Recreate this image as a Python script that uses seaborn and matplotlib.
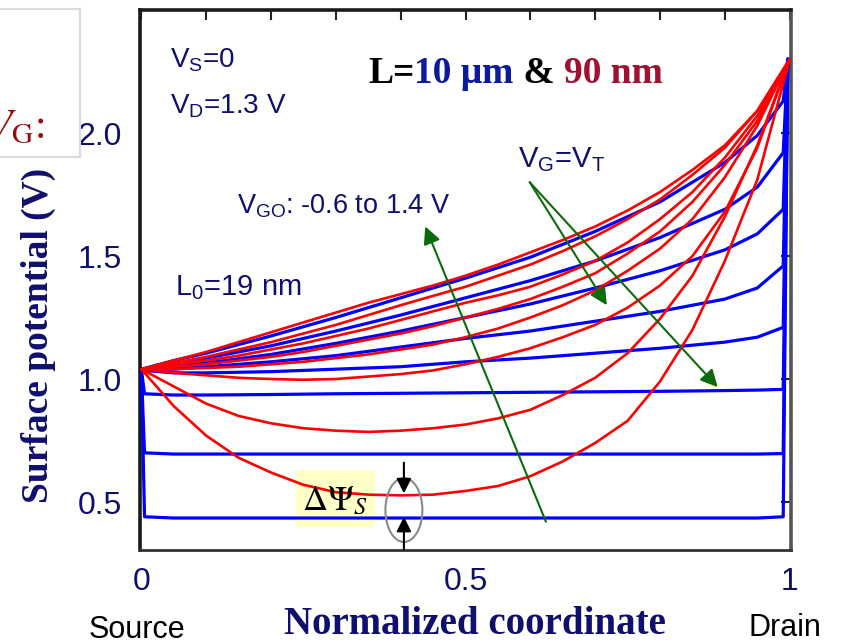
import matplotlib
matplotlib.use("Agg")
import matplotlib.pyplot as plt
from matplotlib.patches import Ellipse, Rectangle
import pandas as pd
import seaborn as sns

W, H = 841, 644

# ── L = 90 nm (red), potential vs normalized position ──
X_RED = [0, .05, .1, .15, .2, .25, .3, .35, .4, .45, .5,
         .55, .6, .65, .7, .75, .8, .85, .9, .95, 1.0]
RED_A = [1.04, 1.075, 1.11, 1.15, 1.19, 1.23, 1.27, 1.31, 1.345, 1.38, 1.42,
         1.465, 1.515, 1.565, 1.62, 1.685, 1.76, 1.85, 1.95, 2.09, 2.30]
RED_B = [1.04, 1.065, 1.09, 1.12, 1.15, 1.185, 1.22, 1.26, 1.30, 1.338, 1.375,
         1.42, 1.465, 1.52, 1.58, 1.65, 1.73, 1.83, 1.94, 2.09, 2.30]
RED_C = [1.04, 1.06, 1.075, 1.095, 1.12, 1.145, 1.175, 1.205, 1.24, 1.275, 1.31,
         1.34, 1.375, 1.425, 1.48, 1.555, 1.65, 1.76, 1.90, 2.07, 2.30]
RED_D = [1.04, 1.05, 1.06, 1.075, 1.09, 1.11, 1.135, 1.16, 1.185, 1.215, 1.25,
         1.285, 1.325, 1.375, 1.43, 1.51, 1.60, 1.72, 1.87, 2.05, 2.30]
RED_E = [1.04, 1.04, 1.045, 1.05, 1.06, 1.07, 1.085, 1.10, 1.12, 1.14, 1.17,
         1.205, 1.25, 1.30, 1.36, 1.44, 1.53, 1.65, 1.82, 2.03, 2.30]
RED_F = [1.04, 1.025, 1.015, 1.005, 1.0, 0.997, 1.0, 1.01, 1.02, 1.035, 1.06,
         1.09, 1.125, 1.17, 1.22, 1.29, 1.38, 1.50, 1.68, 1.94, 2.30]
RED_G = [1.04, 0.97, 0.90, 0.85, 0.82, 0.80, 0.79, 0.785, 0.79, 0.80, 0.815,
         0.84, 0.875, 0.935, 1.005, 1.105, 1.245, 1.42, 1.66, 1.95, 2.30]
RED_H = [1.04, 0.89, 0.77, 0.68, 0.62, 0.57, 0.54, 0.53, 0.527, 0.53, 0.545,
         0.565, 0.605, 0.665, 0.74, 0.83, 0.99, 1.20, 1.48, 1.81, 2.30]

# ── L = 10 um (blue) ──
X_BLUE = [0, .005, .05, .1, .2, .3, .4, .5, .6, .7, .8, .9, .95, .99, .997]
BLUE_1 = [1.04, 1.043, 1.075, 1.105, 1.175, 1.25, 1.33, 1.41, 1.495, 1.60, 1.72, 1.88, 1.99, 2.13, 2.30]
BLUE_2 = [1.04, 1.042, 1.06, 1.085, 1.135, 1.195, 1.26, 1.33, 1.40, 1.48, 1.575, 1.69, 1.78, 1.92, 2.30]
BLUE_3 = [1.04, 1.041, 1.05, 1.065, 1.10, 1.145, 1.195, 1.25, 1.305, 1.37, 1.44, 1.525, 1.59, 1.69, 2.30]
BLUE_4 = [1.04, 1.04, 1.04, 1.05, 1.07, 1.095, 1.13, 1.165, 1.195, 1.235, 1.275, 1.325, 1.37, 1.46, 2.30]
BLUE_5 = [1.04, 1.035, 1.025, 1.025, 1.03, 1.04, 1.05, 1.07, 1.085, 1.105, 1.125, 1.15, 1.17, 1.21, 2.30]
BLUE_6 = [1.04, 0.94, 0.935, 0.935, 0.937, 0.94, 0.942, 0.944, 0.946, 0.948, 0.95, 0.953, 0.955, 0.958, 2.30]
BLUE_7 = [1.04, 0.70, 0.695, 0.695, 0.695, 0.695, 0.695, 0.695, 0.695, 0.695, 0.695, 0.695, 0.695, 0.697, 2.30]
BLUE_8 = [1.04, 0.44, 0.435, 0.435, 0.435, 0.435, 0.435, 0.435, 0.435, 0.435, 0.435, 0.435, 0.435, 0.44, 2.30]

RED_SET = {'A': RED_A, 'B': RED_B, 'C': RED_C, 'D': RED_D,
           'E': RED_E, 'F': RED_F, 'G': RED_G, 'H': RED_H}
BLUE_SET = {'1': BLUE_1, '2': BLUE_2, '3': BLUE_3, '4': BLUE_4,
            '5': BLUE_5, '6': BLUE_6, '7': BLUE_7, '8': BLUE_8}

X_TICKS = [0, 0.5, 1]
X_TICKLABELS = ['0', '0.5', '1']
Y_TICKS = [0.5, 1.0, 1.5, 2.0]
Y_TICKLABELS = ['0.5', '1.0', '1.5', '2.0']

NAVY = '#0f0f6e'
GREEN = '#0b6b0b'
SANS = ['Liberation Sans', 'DejaVu Sans']
SERIF = ['Liberation Serif', 'DejaVu Serif']


def long_form(xs, curves):
    rows = []
    for name, vals in curves.items():
        for x, v in zip(xs, vals):
            rows.append({'x': x, 'V': v, 'curve': name})
    return pd.DataFrame(rows)


def fx(px):
    return px / W


def fy(py):
    return 1 - py / H


sns.set_theme(style='white')
plt.rcParams['font.family'] = SANS
plt.rcParams['mathtext.fontset'] = 'custom'
plt.rcParams['mathtext.rm'] = 'Liberation Sans'
plt.rcParams['mathtext.it'] = 'Liberation Sans:italic'
plt.rcParams['mathtext.bf'] = 'Liberation Sans:bold'

fig = plt.figure(figsize=(W / 100, H / 100), dpi=100)
ax = fig.add_axes([fx(140), fy(550), (791 - 140) / W, (550 - 10) / H])

df_blue = long_form(X_BLUE, BLUE_SET)
df_red = long_form(X_RED, RED_SET)
sns.lineplot(data=df_blue, x='x', y='V', units='curve', estimator=None, sort=False,
             color='#0000ff', lw=2.3, ax=ax, zorder=3)
sns.lineplot(data=df_red, x='x', y='V', units='curve', estimator=None, sort=False,
             color='#ff0000', lw=1.9, ax=ax, zorder=4)

ax.set_xlim(-0.002, 1.002)
ax.set_ylim(0.305, 2.5)
ax.set_xticks(X_TICKS)
ax.set_xticklabels(X_TICKLABELS)
ax.set_xticks([i / 10 for i in range(1, 10) if i != 5], minor=True)
ax.set_yticks(Y_TICKS)
ax.set_yticklabels(Y_TICKLABELS)
ax.set_xlabel('')
ax.set_ylabel('')
ax.tick_params(axis='both', which='both', direction='in', top=True, right=True,
               length=7, width=1.5, color='#222222', labelsize=23,
               labelcolor=NAVY)
ax.tick_params(axis='x', which='major', pad=12)
ax.tick_params(axis='y', which='major', pad=13)

for side, lw, col in [('top', 2.6, '#1a1a1a'), ('left', 2.6, '#1a1a1a'),
                      ('bottom', 2.0, '#333333'), ('right', 2.6, '#555555')]:
    ax.spines[side].set_linewidth(lw)
    ax.spines[side].set_color(col)
    ax.spines[side].set_visible(True)

# green guide arrows
arrow_kw = dict(arrowstyle='-|>', color=GREEN, lw=1.5, mutation_scale=26,
                shrinkA=0, shrinkB=0)
ax.annotate('', xy=(0.438, 1.62), xytext=(0.624, 0.42), arrowprops=arrow_kw, zorder=6)
ax.annotate('', xy=(0.718, 1.30), xytext=(0.599, 1.80), arrowprops=arrow_kw, zorder=6)
ax.annotate('', xy=(0.889, 0.967), xytext=(0.599, 1.80), arrowprops=arrow_kw, zorder=6)

# delta psi marker
ax.add_patch(Rectangle((0.239, 0.398), 0.122, 0.232, facecolor='#ffffc8',
                       edgecolor='none', zorder=1))
ax.text(0.298, 0.505, r'$\Delta\Psi_S$', fontsize=25, math_fontfamily='stix',
        ha='center', va='center', color='black', zorder=7)
ax.add_patch(Ellipse((0.405, 0.4675), 0.057, 0.26, facecolor='none',
                     edgecolor='#8a8a8a', lw=1.5, zorder=6))
blk_kw = dict(arrowstyle='-|>', color='black', lw=1.5, mutation_scale=22,
              shrinkA=0, shrinkB=0)
ax.annotate('', xy=(0.405, 0.535), xytext=(0.405, 0.66), arrowprops=blk_kw, zorder=7)
ax.annotate('', xy=(0.405, 0.44), xytext=(0.405, 0.305), arrowprops=blk_kw, zorder=7)

# annotations inside the plot
fig.text(fx(170), fy(68), r'$\mathrm{V_S}$=0', fontsize=20, color=NAVY, va='baseline')
fig.text(fx(170), fy(113), r'$\mathrm{V_D}$=1.3 V', fontsize=20, color=NAVY, va='baseline')
fig.text(fx(237), fy(213), r'$\mathrm{V_{GO}}$: -0.6 to 1.4 V', fontsize=19.5, color=NAVY,
         va='baseline')
fig.text(fx(175), fy(295), r'$\mathrm{L_0}$=19 nm', fontsize=21, color=NAVY,
         va='baseline')
fig.text(fx(518), fy(167), r'$\mathrm{V_G}$=$\mathrm{V_T}$', fontsize=21, color=NAVY,
         va='baseline')

# title with coloured parts
pieces = [('L=', 'black'), ('10 \u03bcm', '#0c1a9c'), (' & ', 'black'), ('90 nm', '#a3102f')]
t = fig.text(fx(368), fy(83), pieces[0][0], color=pieces[0][1], fontsize=27,
             family=SERIF, weight='bold', va='baseline')
for s, c in pieces[1:]:
    t = ax.annotate(s, xy=(1, 0), xycoords=t, ha='left', va='bottom', color=c,
                    fontsize=27, family=SERIF, weight='bold', annotation_clip=False)

# axis titles and end labels
fig.text(fx(38), fy(335), 'Surface potential (V)', rotation=90, ha='center', va='center',
         fontsize=27, family=SERIF, weight='bold', color=NAVY)
fig.text(fx(475), fy(634), 'Normalized coordinate', ha='center', va='baseline',
         fontsize=28, family=SERIF, weight='bold', color=NAVY)
fig.text(fx(137), fy(638), 'Source', ha='center', va='baseline', fontsize=22,
         color='black')
fig.text(fx(785), fy(636), 'Drain', ha='center', va='baseline', fontsize=22,
         color='black')

# leftover "V_G:" box at the top-left edge
fig.add_artist(Rectangle((fx(-3), fy(157)), 83 / W, 148 / H, transform=fig.transFigure,
                         facecolor='white', edgecolor='#dadada', lw=1.5))
fig.text(fx(44), fy(138), r'$V_{\mathrm{G}}$:', ha='right', va='baseline', fontsize=30,
         math_fontfamily='stix', family=SERIF, color='#9b0a0a')

fig.savefig('out.png', dpi=100)
